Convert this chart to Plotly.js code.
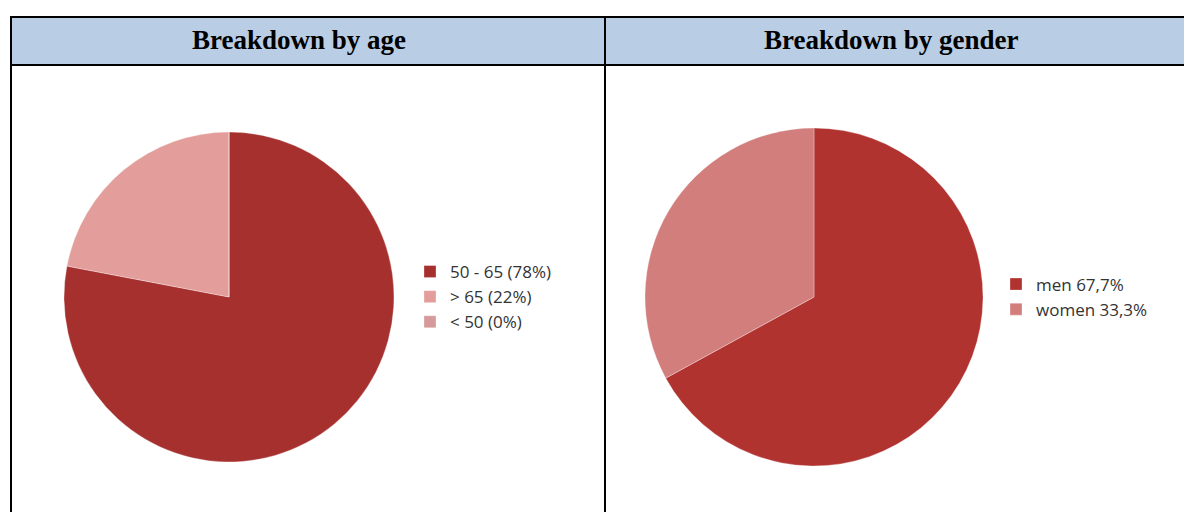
<!DOCTYPE html>
<html>
<head>
<meta charset="utf-8">
<script src="https://cdn.plot.ly/plotly-3.0.1.min.js"></script>
<style>
  html, body { margin: 0; padding: 0; background: #ffffff; }
  #chart { width: 1184px; height: 512px; }
</style>
</head>
<body>
<div id="chart"></div>
<script>
// Data
const ageLabels = ["50 - 65 (78%)", "> 65 (22%)", "< 50 (0%)"];
const ageValues = [78, 22, 0];
const ageColors = ["#a5302e", "#e39d9b", "#d69a9a"];

const genderLabels = ["men 67,7%", "women 33,3%"];
const genderValues = [67.7, 33.3];
const genderColors = ["#b0332f", "#d27e7d"];

const headerTitles = ["Breakdown by age", "Breakdown by gender"];

const W = 1184, H = 512;
const px = v => v / W;
const py = v => (H - v) / H;

const traces = [
  {
    type: "pie",
    labels: ageLabels,
    values: ageValues,
    sort: false,
    direction: "clockwise",
    rotation: 0,
    textinfo: "none",
    hoverinfo: "label",
    marker: { colors: ageColors, line: { color: "rgba(255,255,255,0.3)", width: 1 } },
    domain: { x: [px(64), px(394)], y: [py(462), py(132)] },
    legend: "legend",
    showlegend: true
  },
  {
    type: "pie",
    labels: genderLabels,
    values: genderValues,
    sort: false,
    direction: "clockwise",
    rotation: 0,
    textinfo: "none",
    hoverinfo: "label",
    marker: { colors: genderColors, line: { color: "rgba(255,255,255,0.3)", width: 1 } },
    domain: { x: [px(645), px(983)], y: [py(466), py(128)] },
    legend: "legend2",
    showlegend: true
  }
];

const lineStyle = { color: "#000000", width: 2 };
const shapes = [
  // header fill
  { type: "rect", xref: "paper", yref: "paper", x0: px(11), x1: 1, y0: py(65), y1: py(17),
    fillcolor: "#b9cde4", line: { width: 0 }, layer: "below" },
  // top border
  { type: "line", xref: "paper", yref: "paper", x0: px(10), x1: 1, y0: py(17), y1: py(17), line: lineStyle },
  // header bottom
  { type: "line", xref: "paper", yref: "paper", x0: px(10), x1: 1, y0: py(65), y1: py(65), line: lineStyle },
  // left border
  { type: "line", xref: "paper", yref: "paper", x0: px(11), x1: px(11), y0: 0, y1: py(16), line: lineStyle },
  // middle divider
  { type: "line", xref: "paper", yref: "paper", x0: px(605), x1: px(605), y0: 0, y1: py(16), line: lineStyle }
];

const headerFont = { family: "Liberation Serif, Times New Roman, serif", size: 27, color: "#000000" };
const annotations = [
  { text: "<b>" + headerTitles[0] + "</b>", xref: "paper", yref: "paper", x: px(299), y: py(40),
    xanchor: "center", yanchor: "middle", showarrow: false, font: headerFont },
  { text: "<b>" + headerTitles[1] + "</b>", xref: "paper", yref: "paper", x: px(891), y: py(40),
    xanchor: "center", yanchor: "middle", showarrow: false, font: headerFont }
];

const legendFont = { family: "Open Sans, Lato, sans-serif", size: 17, color: "#333333" };

const layout = {
  width: W,
  height: H,
  margin: { l: 0, r: 0, t: 0, b: 0 },
  paper_bgcolor: "#ffffff",
  plot_bgcolor: "#ffffff",
  shapes: shapes,
  annotations: annotations,
  legend: {
    x: px(410), y: py(297), xanchor: "left", yanchor: "middle",
    font: legendFont, itemwidth: 30, tracegroupgap: 0, bgcolor: "rgba(0,0,0,0)",
    itemclick: false, itemdoubleclick: false
  },
  legend2: {
    x: px(996), y: py(297), xanchor: "left", yanchor: "middle",
    font: legendFont, itemwidth: 30, tracegroupgap: 0, bgcolor: "rgba(0,0,0,0)",
    itemclick: false, itemdoubleclick: false
  }
};

Plotly.newPlot("chart", traces, layout, { displayModeBar: false, staticPlot: true });
</script>
</body>
</html>
